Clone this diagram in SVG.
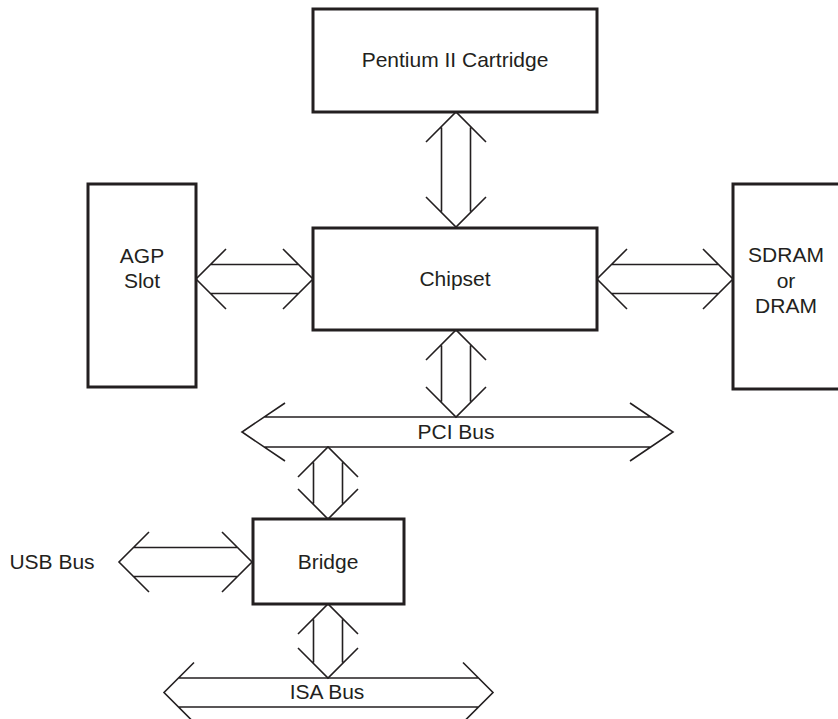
<svg xmlns="http://www.w3.org/2000/svg" width="838" height="719" viewBox="0 0 838 719">
<style>
.box{fill:#fff;stroke:#231f20;stroke-width:3}
.arr{fill:none;stroke:#231f20;stroke-width:1.6}
text{font-family:"Liberation Sans",Arial,sans-serif;font-size:21px;fill:#231f20;text-anchor:middle}
</style>
<rect width="838" height="719" fill="#fff"/>
<g id="connectors">
<path class="arr" d="M426,142 L456,112 L486,142 M426,197 L456,227 L486,197 M441.5,127.5 V211.5 M470.5,127.5 V211.5"/>
<path class="arr" d="M426,360 L456,330 L486,360 M426,387 L456,417 L486,387 M441.5,345.5 V401.5 M470.5,345.5 V401.5"/>
<path class="arr" d="M298,477 L328,447 L358,477 M298,489 L328,519 L358,489 M313.5,462.5 V503.5 M342.5,462.5 V503.5"/>
<path class="arr" d="M298,634 L328,604 L358,634 M298,648 L328,678 L358,648 M313.5,619.5 V662.5 M342.5,619.5 V662.5"/>
<path class="arr" d="M226,249 L196,279 L226,309 M283,249 L313,279 L283,309 M210.5,264.5 H298.5 M210.5,293.5 H298.5"/>
<path class="arr" d="M627,249 L597,279 L627,309 M703,249 L733,279 L703,309 M611.5,264.5 H718.5 M611.5,293.5 H718.5"/>
<path class="arr" d="M149,532 L119,562 L149,592 M222,532 L252,562 L222,592 M133.5,547.5 H237.5 M133.5,576.5 H237.5"/>
<path class="arr" d="M285,403 L242,432 L285,461 M630,403 L673,432 L630,461 M264,417 H651 M264,447 H651"/>
<path class="arr" d="M194,662.5 L164,692.5 L194,722.5 M463,662.5 L493,692.5 L463,722.5 M178.5,678 H478.5 M178.5,707 H478.5"/>
</g>
<g id="pentium"><rect class="box" x="313" y="9" width="284" height="103"/><text x="455" y="67">Pentium II Cartridge</text></g>
<g id="chipset"><rect class="box" x="313" y="228" width="284" height="102"/><text x="455" y="286">Chipset</text></g>
<g id="agp"><rect class="box" x="88" y="184" width="108" height="203"/><text x="142" y="263">AGP</text><text x="142" y="288">Slot</text></g>
<g id="sdram"><rect class="box" x="733" y="184" width="110" height="205"/><text x="786" y="262">SDRAM</text><text x="786" y="288">or</text><text x="786" y="313">DRAM</text></g>
<g id="bridge"><rect class="box" x="253" y="519" width="151" height="85"/><text x="328" y="569">Bridge</text></g>
<g id="pci"><text x="456" y="439">PCI Bus</text></g>
<g id="isa"><text x="327" y="699">ISA Bus</text></g>
<g id="usb"><text x="52" y="569">USB Bus</text></g>
</svg>
